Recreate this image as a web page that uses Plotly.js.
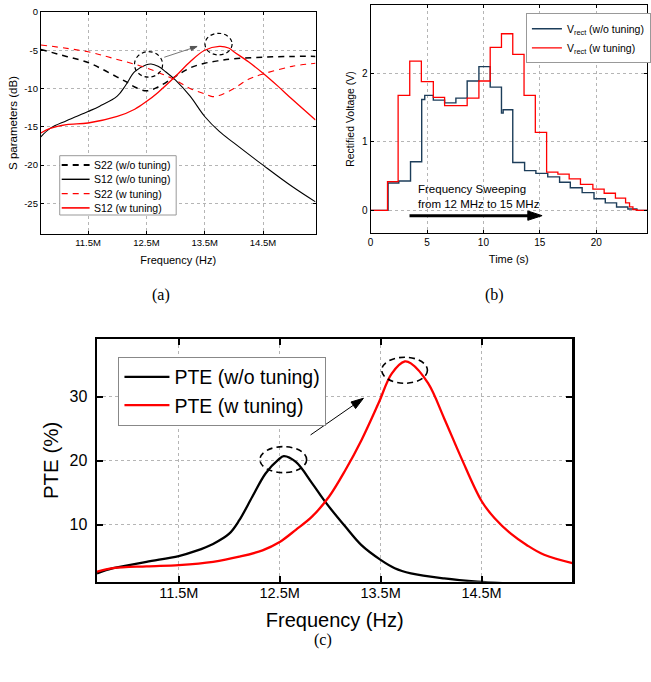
<!DOCTYPE html>
<html>
<head>
<meta charset="utf-8">
<script src="https://cdn.plot.ly/plotly-3.0.1.min.js"></script>
<style>html,body{margin:0;padding:0;background:#fff;}#chart{width:651px;height:682px;}</style>
</head>
<body>
<div id="chart"></div>
<script>
// ---------- Panel (a): S parameters (frequency in MHz) ----------
const freqS22wo = [10.69, 11.13, 11.5, 11.75, 12.0, 12.15, 12.3, 12.5, 12.7, 13.0, 13.25, 13.5, 13.75, 14.0, 14.5, 15.0, 15.4];
const s22wo     = [-4.9, -5.8, -6.6, -7.5, -8.5, -9.1, -9.8, -10.3, -9.8, -8.4, -7.3, -6.7, -6.35, -6.1, -5.9, -5.8, -5.8];
const freqS12wo = [10.69, 10.85, 11.13, 11.5, 11.7, 12.0, 12.15, 12.3, 12.5, 12.58, 12.7, 12.83, 13.0, 13.25, 13.5, 13.75, 14.0, 14.5, 15.0, 15.4];
const s12wo     = [-16.3, -15.2, -14.2, -13.0, -12.3, -11.0, -9.5, -7.8, -6.9, -6.8, -7.1, -7.8, -8.9, -11.0, -13.65, -15.6, -17.1, -20.0, -22.8, -24.8];
const freqS22w  = [10.69, 11.5, 12.0, 12.5, 13.0, 13.25, 13.5, 13.63, 13.75, 14.0, 14.25, 14.5, 15.0, 15.4];
const s22w      = [-4.3, -5.2, -6.2, -7.3, -8.9, -10.0, -10.7, -11.05, -10.9, -10.0, -8.8, -8.1, -7.1, -6.7];
const freqS12w  = [10.69, 10.85, 11.13, 11.5, 12.0, 12.3, 12.5, 12.7, 13.0, 13.25, 13.5, 13.75, 13.91, 14.0, 14.25, 14.5, 14.75, 15.0, 15.4];
const s12w      = [-15.8, -15.2, -14.7, -14.5, -13.65, -12.7, -11.7, -10.5, -8.4, -6.5, -5.0, -4.5, -4.7, -5.2, -6.5, -8.0, -9.65, -11.4, -14.1];
const seriesNamesA = ['S22 (w/o tuning)', 'S12 (w/o tuning)', 'S22 (w tuning)', 'S12 (w tuning)'];
const freqTickVals = [11.5, 12.5, 13.5, 14.5];
const freqTickText = ['11.5M', '12.5M', '13.5M', '14.5M'];
const dbTickVals = [0, -5, -10, -15, -20, -25];
const dbTickText = ['0', '-5', '-10', '-15', '-20', '-25'];

// ---------- Panel (b): rectified voltage steps ----------
const timeWo = [0, 1.55, 2.5, 3.54, 4.53, 4.8, 5.56, 6.56, 7.56, 8.56, 9.6, 10.6, 11.6, 11.75, 12.6, 13.65, 14.65, 15.7, 16.75, 17.7, 18.75, 19.8, 20.8, 21.8, 22.8, 23.6, 24.5];
const vWo    = [0, 0.40, 0.43, 0.71, 1.62, 1.68, 1.61, 1.57, 1.64, 1.89, 2.10, 1.80, 1.42, 1.47, 0.70, 0.58, 0.54, 0.49, 0.41, 0.33, 0.26, 0.17, 0.11, 0.05, 0.02, 0.0, 0.0];
const timeW  = [0, 1.5, 2.44, 3.47, 4.5, 5.56, 6.56, 8.56, 9.6, 10.6, 11.6, 12.6, 13.6, 14.6, 15.6, 16.6, 17.6, 18.6, 19.7, 20.7, 21.7, 22.6, 22.95, 23.25, 23.6, 24.5];
const vW     = [0, 0.42, 1.68, 2.18, 1.88, 1.65, 1.53, 1.64, 1.89, 2.38, 2.58, 2.28, 1.68, 1.14, 0.56, 0.53, 0.46, 0.38, 0.31, 0.25, 0.18, 0.11, 0.05, 0.01, 0.0, 0.0];

// ---------- Panel (c): PTE ----------
const freqPteWo = [10.69, 10.85, 11.18, 11.5, 11.67, 11.84, 12.0, 12.1, 12.23, 12.36, 12.49, 12.54, 12.66, 12.82, 12.95, 13.15, 13.31, 13.5, 13.64, 13.8, 14.13, 14.46, 14.8, 15.4];
const pteWo     = [2.4, 3.2, 4.2, 5.1, 5.9, 7.0, 8.6, 10.7, 14.4, 18.0, 20.2, 20.7, 19.8, 16.5, 13.6, 9.7, 6.8, 4.5, 3.2, 2.4, 1.6, 1.1, 0.8, 0.4];
const freqPteW  = [10.69, 10.85, 11.18, 11.5, 11.84, 12.1, 12.33, 12.5, 12.66, 12.82, 12.99, 13.15, 13.31, 13.48, 13.61, 13.74, 13.8, 13.97, 14.13, 14.3, 14.5, 14.63, 14.79, 14.95, 15.12, 15.4];
const pteW      = [2.65, 3.2, 3.5, 3.7, 4.2, 5.0, 6.0, 7.3, 9.2, 11.25, 14.4, 18.5, 23.2, 29.0, 33.6, 35.5, 35.2, 32.1, 26.6, 20.4, 13.7, 11.0, 8.6, 6.8, 5.3, 4.0];
const pteTickVals = [10, 20, 30];

const SANS = 'Liberation Sans, Arial, sans-serif';
const SERIF = 'Liberation Serif, Times New Roman, serif';
const RED = '#ff0000';
const NAVY = '#1c3d5a';

const styleA = [
  {color: '#000', width: 1.5, dash: '6px,5px'},
  {color: '#000', width: 1.1, dash: 'solid'},
  {color: RED, width: 1.1, dash: '6px,5px'},
  {color: RED, width: 1.3, dash: 'solid'}
];
const dataA = [[freqS22wo, s22wo], [freqS12wo, s12wo], [freqS22w, s22w], [freqS12w, s12w]];

const traces = [];
dataA.forEach(function (d, i) {
  traces.push({x: d[0], y: d[1], xaxis: 'x', yaxis: 'y', type: 'scatter', mode: 'lines', name: seriesNamesA[i],
    showlegend: false, line: Object.assign({shape: 'spline'}, styleA[i])});
});
traces.push(
  {x: timeWo, y: vWo, xaxis: 'x2', yaxis: 'y2', type: 'scatter', mode: 'lines', name: 'V<sub>rect</sub> (w/o tuning)', legend: 'legend2',
   line: {color: NAVY, width: 1.4, shape: 'hv'}},
  {x: timeW, y: vW, xaxis: 'x2', yaxis: 'y2', type: 'scatter', mode: 'lines', name: 'V<sub>rect</sub> (w tuning)', legend: 'legend2',
   line: {color: RED, width: 1.3, shape: 'hv'}},
  {x: freqPteWo, y: pteWo, xaxis: 'x3', yaxis: 'y3', type: 'scatter', mode: 'lines', name: 'PTE (w/o tuning)', legend: 'legend3',
   line: {color: '#000', width: 2.3, shape: 'spline'}},
  {x: freqPteW, y: pteW, xaxis: 'x3', yaxis: 'y3', type: 'scatter', mode: 'lines', name: 'PTE (w tuning)', legend: 'legend3',
   line: {color: RED, width: 2.3, shape: 'spline'}}
);

// arrows (annotation marks): line with an arrow marker at the end
function arrow(xa, ya, xs, ys, color, width, headSize) {
  return {x: xs, y: ys, xaxis: xa, yaxis: ya, type: 'scatter', mode: 'lines+markers', showlegend: false, hoverinfo: 'skip',
    line: {color: color, width: width},
    marker: {symbol: 'arrow', angleref: 'previous', size: [0, headSize], color: color, opacity: 1, line: {width: 1, color: color}}};
}
traces.push(arrow('x', 'y', [12.807, 13.37], [-5.91, -4.5], '#555', 0.8, 7));
traces.push(arrow('x3', 'y3', [12.806, 13.33], [24.02, 29.75], '#000', 1, 13));
traces.push(arrow('x2', 'y2', [3.45, 15.2], [-0.077, -0.077], '#000', 3, 15));

const gridStyle = {showgrid: true, gridcolor: '#b5b5b5', griddash: 'dot', gridwidth: 1, zeroline: false};

// manual legend for panel (a) (paper coordinates)
const legA = {x0: 60 / 651, x1: 177 / 651, yTop: 1 - 155.7 / 682, yBot: 1 - 215 / 682,
  rows: [1 - 165 / 682, 1 - 179.3 / 682, 1 - 193.6 / 682, 1 - 207.9 / 682],
  lineX0: 62 / 651, lineX1: 90 / 651, textX: 92 / 651};
const legShapes = [{type: 'rect', xref: 'paper', yref: 'paper', x0: legA.x0, x1: legA.x1, y0: legA.yBot, y1: legA.yTop,
  fillcolor: '#fff', line: {color: '#999', width: 1}}];
const legAnn = [];
seriesNamesA.forEach(function (n, i) {
  legShapes.push({type: 'line', xref: 'paper', yref: 'paper', x0: legA.lineX0, x1: legA.lineX1, y0: legA.rows[i], y1: legA.rows[i],
    line: {color: styleA[i].color, width: styleA[i].width + 0.3, dash: styleA[i].dash}});
  legAnn.push({xref: 'paper', yref: 'paper', x: legA.textX, y: legA.rows[i], xanchor: 'left', yanchor: 'middle', showarrow: false,
    text: n, font: {size: 10.5, color: '#000'}});
});

const layout = {
  width: 651, height: 682,
  margin: {l: 0, r: 0, t: 0, b: 0},
  paper_bgcolor: '#fff', plot_bgcolor: '#fff',
  font: {family: SANS, color: '#000'},
  showlegend: true,
  xaxis: Object.assign({}, gridStyle, {
    domain: [0.0630, 0.4869], anchor: 'y', range: [10.69, 15.4],
    tickvals: freqTickVals, ticktext: freqTickText, tickfont: {size: 9.5},
    showline: true, linecolor: '#000', linewidth: 1, mirror: 'ticks', ticks: 'inside', ticklen: 3, tickcolor: '#000',
    title: {text: 'Frequency (Hz)', font: {size: 11}, standoff: 8}
  }),
  yaxis: Object.assign({}, gridStyle, {
    domain: [0.6569, 0.9824], anchor: 'x', range: [-29, 0],
    tickvals: dbTickVals, ticktext: dbTickText, tickfont: {size: 9.5},
    showline: true, linecolor: '#000', linewidth: 1, mirror: 'ticks', ticks: 'inside', ticklen: 3, tickcolor: '#000',
    title: {text: 'S parameters (dB)', font: {size: 11.5}, standoff: 4}
  }),
  xaxis2: Object.assign({}, gridStyle, {
    domain: [0.5719, 0.9985], anchor: 'y2', range: [0, 24.5],
    tickvals: [0, 5, 10, 15, 20], tickfont: {size: 10},
    showline: true, linecolor: '#000', linewidth: 1, mirror: 'ticks', ticks: 'inside', ticklen: 3, tickcolor: '#000',
    title: {text: 'Time (s)', font: {size: 11}, standoff: 8}
  }),
  yaxis2: Object.assign({}, gridStyle, {
    domain: [0.6584, 0.9927], anchor: 'x2', range: [-0.33, 3.0],
    tickvals: [0, 1, 2], tickfont: {size: 10},
    showline: true, linecolor: '#000', linewidth: 1, mirror: 'ticks', ticks: 'inside', ticklen: 3, tickcolor: '#000',
    title: {text: 'Rectified Voltage (V)', font: {size: 10.5}, standoff: 5}
  }),
  xaxis3: Object.assign({}, gridStyle, {
    domain: [0.1497, 0.8833], anchor: 'y3', range: [10.69, 15.4],
    tickvals: freqTickVals, ticktext: freqTickText, tickfont: {size: 14.5}, ticklabelstandoff: -4,
    showline: true, linecolor: '#000', linewidth: 2.5, mirror: 'ticks', ticks: 'inside', ticklen: 6, tickwidth: 2, tickcolor: '#000',
    title: {text: 'Frequency (Hz)', font: {size: 20}, standoff: 14}
  }),
  yaxis3: Object.assign({}, gridStyle, {
    domain: [0.1471, 0.5029], anchor: 'x3', range: [1.1, 39],
    tickvals: pteTickVals, tickfont: {size: 16}, ticklabelstandoff: 4,
    showline: true, linecolor: '#000', linewidth: 2.5, mirror: 'ticks', ticks: 'inside', ticklen: 6, tickwidth: 2, tickcolor: '#000',
    title: {text: 'PTE (%)', font: {size: 20.5}, standoff: 6}
  }),
  legend2: {x: 0.8116, y: 0.9805, xanchor: 'left', yanchor: 'top', bgcolor: '#fff', bordercolor: '#999', borderwidth: 1,
            font: {size: 10.5}, tracegroupgap: 0, itemwidth: 30},
  legend3: {x: 0.1828, y: 0.477, xanchor: 'left', yanchor: 'top', bgcolor: '#fff', bordercolor: '#888', borderwidth: 1,
            font: {size: 19.5}, tracegroupgap: 0, itemwidth: 45},
  shapes: [
    {type: 'circle', xref: 'x', yref: 'y', x0: 12.296, x1: 12.778, y0: -8.52, y1: -5.18, line: {color: '#000', width: 1.2, dash: '4px,3px'}},
    {type: 'circle', xref: 'x', yref: 'y', x0: 13.505, x1: 13.970, y0: -5.61, y1: -2.78, line: {color: '#000', width: 1.2, dash: '4px,3px'}},
    {type: 'circle', xref: 'x3', yref: 'y3', x0: 12.304, x1: 12.767, y0: 18.13, y1: 22.19, line: {color: '#000', width: 1.6, dash: '6px,4px'}},
    {type: 'circle', xref: 'x3', yref: 'y3', x0: 13.511, x1: 13.964, y0: 32.09, y1: 36.16, line: {color: '#000', width: 1.6, dash: '6px,4px'}}
  ].concat(legShapes),
  annotations: [
    {xref: 'x2', yref: 'y2', x: 4.0, y: 0.204, xanchor: 'left', yanchor: 'middle', align: 'left', showarrow: false,
     text: 'Frequency Sweeping<br>from 12 MHz to 15 MHz', font: {size: 11.5, color: '#000'}},
    {xref: 'paper', yref: 'paper', x: 0.2484, y: 0.5674, xanchor: 'center', yanchor: 'middle', showarrow: false,
     text: '(a)', font: {family: SERIF, size: 16}},
    {xref: 'paper', yref: 'paper', x: 0.7634, y: 0.5674, xanchor: 'center', yanchor: 'middle', showarrow: false,
     text: '(b)', font: {family: SERIF, size: 16}},
    {xref: 'paper', yref: 'paper', x: 0.4992, y: 0.0616, xanchor: 'center', yanchor: 'middle', showarrow: false,
     text: '(c)', font: {family: SERIF, size: 16}}
  ].concat(legAnn)
};

Plotly.newPlot('chart', traces, layout, {displayModeBar: false, staticPlot: true});
</script>
</body>
</html>
